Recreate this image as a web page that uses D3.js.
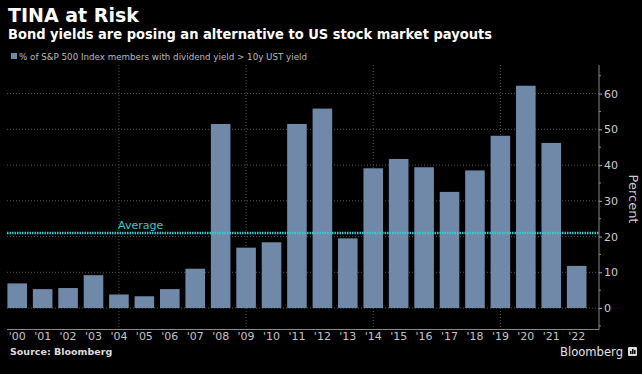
<!DOCTYPE html>
<html>
<head>
<meta charset="utf-8">
<script src="https://cdn.jsdelivr.net/npm/d3@7"></script>
<style>
  body { margin: 0; background: #000; }
  svg { display: block; }
  text { font-family: "DejaVu Sans", sans-serif; }
</style>
</head>
<body>
<svg id="chart" width="642" height="374"></svg>
<script>
// share of S&P 500 members whose dividend yield beats the 10y treasury
const years = ["'00", "'01", "'02", "'03", "'04", "'05", "'06", "'07", "'08", "'09", "'10", "'11",
               "'12", "'13", "'14", "'15", "'16", "'17", "'18", "'19", "'20", "'21", "'22"];
const shares = [6.9, 5.3, 5.6, 9.2, 3.8, 3.3, 5.3, 11.0, 51.5, 16.9, 18.4, 51.5,
                55.8, 19.5, 39.1, 41.7, 39.4, 32.5, 38.5, 48.2, 62.2, 46.2, 11.8];
const average = 21;
const yTicks = [0, 10, 20, 30, 40, 50, 60];
const yMinorTicks = [-5, 5, 15, 25, 35, 45, 55, 65];
const gridYears = ["'04", "'09", "'14", "'19"];

const svg = d3.select("#chart");
const plotLeft = 7, plotRight = 599, plotTop = 65, plotBottom = 329.5;

svg.append("rect").attr("width", 642).attr("height", 374).attr("fill", "#000");

const x = d3.scaleBand()
    .domain(years)
    .range([4.5, 589.4])
    .paddingInner(0.23)
    .paddingOuter(0.115);

const y = d3.scaleLinear()
    .domain([-6, 68])
    .range([plotBottom, plotTop]);

// titles
svg.append("text")
    .attr("x", 8).attr("y", 22)
    .attr("fill", "#fff")
    .attr("font-size", 19).attr("font-weight", "bold")
    .text("TINA at Risk");

svg.append("text")
    .attr("x", 8).attr("y", 38.5)
    .attr("fill", "#fff")
    .attr("font-size", 13.5).attr("font-weight", "bold")
    .attr("textLength", 484).attr("lengthAdjust", "spacingAndGlyphs")
    .text("Bond yields are posing an alternative to US stock market payouts");

// legend
svg.append("rect")
    .attr("x", 11).attr("y", 53).attr("width", 6).attr("height", 6)
    .attr("fill", "#7189a8");
svg.append("text")
    .attr("x", 19).attr("y", 59.5)
    .attr("fill", "#bbb")
    .attr("font-size", 9)
    .attr("textLength", 288).attr("lengthAdjust", "spacingAndGlyphs")
    .text("% of S&P 500 Index members with dividend yield  > 10y UST yield");

// gridlines
svg.append("g")
    .selectAll("line")
    .data(yTicks)
    .join("line")
    .attr("x1", plotLeft).attr("x2", plotRight)
    .attr("y1", d => y(d)).attr("y2", d => y(d))
    .attr("stroke", "#555")
    .attr("stroke-dasharray", "1,2");

svg.append("g")
    .selectAll("line")
    .data(gridYears)
    .join("line")
    .attr("x1", d => x(d) + x.bandwidth() / 2).attr("x2", d => x(d) + x.bandwidth() / 2)
    .attr("y1", plotTop).attr("y2", plotBottom)
    .attr("stroke", "#555")
    .attr("stroke-dasharray", "1,2");

// bars
svg.append("g")
    .selectAll("rect")
    .data(shares)
    .join("rect")
    .attr("x", (d, i) => x(years[i]))
    .attr("width", x.bandwidth())
    .attr("y", d => y(d))
    .attr("height", d => y(0) - y(d))
    .attr("fill", "#7189a8");

// average line
svg.append("line")
    .attr("x1", plotLeft).attr("x2", plotRight)
    .attr("y1", y(average)).attr("y2", y(average))
    .attr("stroke", "#3cc8cc")
    .attr("stroke-width", 2.5)
    .attr("stroke-dasharray", "1.5,1");

svg.append("text")
    .attr("x", 118).attr("y", y(average) - 3.5)
    .attr("fill", "#3cc8cc")
    .attr("font-size", 11)
    .text("Average");

// x axis
const xAxis = svg.append("g")
    .attr("transform", `translate(0,${plotBottom})`)
    .call(d3.axisBottom(x).tickSize(0).tickPadding(3));
xAxis.select(".domain").remove();
xAxis.selectAll("text")
    .attr("fill", "#c4c4c4")
    .attr("font-size", 11)
    .attr("font-family", "DejaVu Sans Condensed, DejaVu Sans, sans-serif");
svg.append("line")
    .attr("x1", plotLeft).attr("x2", plotRight)
    .attr("y1", plotBottom).attr("y2", plotBottom)
    .attr("stroke", "#888");

// y axis on the right
const yAxis = svg.append("g")
    .attr("transform", `translate(${plotRight},0)`)
    .call(d3.axisRight(y).tickValues(yTicks).tickSize(3).tickPadding(2));
yAxis.select(".domain").remove();
yAxis.selectAll("line").attr("stroke", "#aaa");
yAxis.selectAll("text")
    .attr("fill", "#ccc")
    .attr("font-size", 11)
    .attr("font-family", "DejaVu Sans Condensed, DejaVu Sans, sans-serif");

svg.append("g")
    .selectAll("line")
    .data(yMinorTicks)
    .join("line")
    .attr("x1", plotRight).attr("x2", plotRight + 2)
    .attr("y1", d => y(d)).attr("y2", d => y(d))
    .attr("stroke", "#888");

svg.append("line")
    .attr("x1", plotRight).attr("x2", plotRight)
    .attr("y1", plotTop).attr("y2", plotBottom)
    .attr("stroke", "#888");

svg.append("text")
    .attr("transform", `translate(629,199) rotate(90)`)
    .attr("text-anchor", "middle")
    .attr("fill", "#ccc")
    .attr("font-size", 13)
    .text("Percent");

// footer
svg.append("text")
    .attr("x", 10).attr("y", 355)
    .attr("fill", "#ddd")
    .attr("font-size", 9.5).attr("font-weight", "bold")
    .text("Source: Bloomberg");

svg.append("text")
    .attr("x", 560).attr("y", 356)
    .attr("fill", "#e4e4e4")
    .attr("font-size", 13)
    .attr("textLength", 63).attr("lengthAdjust", "spacingAndGlyphs")
    .text("Bloomberg");

const logo = svg.append("g").attr("transform", "translate(628,347)");
logo.append("rect").attr("width", 9).attr("height", 9).attr("rx", 1).attr("fill", "#ddd");
logo.append("rect").attr("x", 4).attr("y", 2).attr("width", 1.5).attr("height", 5).attr("fill", "#000");
logo.append("rect").attr("x", 2).attr("y", 4).attr("width", 1.5).attr("height", 3).attr("fill", "#000");
logo.append("rect").attr("x", 6).attr("y", 3).attr("width", 1.5).attr("height", 4).attr("fill", "#000");
</script>
</body>
</html>
